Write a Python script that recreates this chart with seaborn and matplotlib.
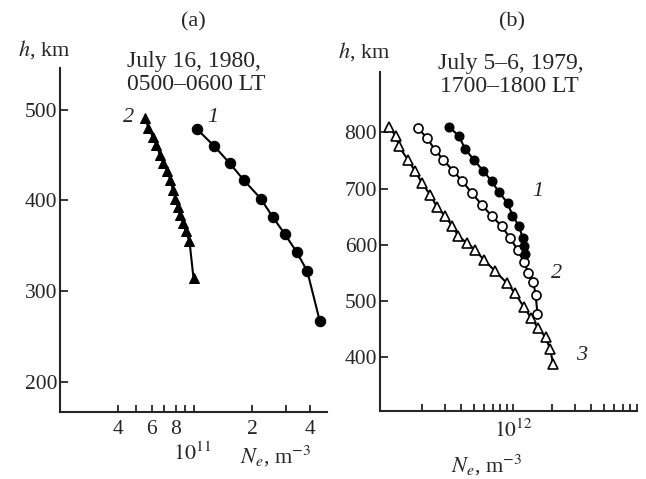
import matplotlib
matplotlib.use("Agg")
import matplotlib.pyplot as plt
import seaborn as sns
from matplotlib.ticker import NullLocator

sns.set_style("ticks")
plt.rcParams["font.family"] = ["Liberation Serif", "DejaVu Serif"]
plt.rcParams["mathtext.fontset"] = "stix"

# panel (a): July 16, 1980, 0500-0600 LT
a1_ne = [1.03e11, 1.27e11, 1.53e11, 1.82e11, 2.22e11, 2.56e11, 2.96e11, 3.42e11, 3.88e11, 4.51e11]
a1_h = [479, 460, 441, 422, 402, 382, 363, 343, 322, 267]
a2_ne = [5.55e10, 5.78e10, 6.09e10, 6.34e10, 6.65e10, 6.92e10, 7.26e10, 7.50e10,
         7.74e10, 7.96e10, 8.22e10, 8.45e10, 8.73e10, 9.05e10, 9.45e10, 9.92e10]
a2_h = [491, 480, 470, 461, 450, 441, 432, 423, 412, 402, 393, 384, 375, 366, 355, 314]

# panel (b): July 5-6, 1979, 1700-1800 LT
b1_ne = [3.24e11, 3.86e11, 4.30e11, 5.07e11, 5.94e11, 6.89e11, 7.85e11, 9.15e11,
         9.93e11, 1.12e12, 1.19e12, 1.22e12, 1.24e12]
b1_h = [810, 793, 770, 750, 731, 713, 693, 674, 652, 633, 612, 597, 584]
b2_ne = [1.86e11, 2.18e11, 2.52e11, 2.92e11, 3.49e11, 4.10e11, 4.84e11, 5.78e11, 6.89e11,
         8.22e11, 9.53e11, 1.09e12, 1.22e12, 1.32e12, 1.44e12, 1.50e12, 1.55e12]
b2_h = [808, 790, 769, 751, 731, 713, 692, 671, 651, 633, 612, 591, 569, 550, 533, 511, 476]
b3_ne = [1.12e11, 1.26e11, 1.33e11, 1.56e11, 1.77e11, 2.00e11, 2.31e11, 2.60e11, 3.01e11,
         3.43e11, 3.82e11, 4.43e11, 5.13e11, 6.00e11, 7.31e11, 8.99e11, 1.04e12, 1.21e12,
         1.38e12, 1.57e12, 1.79e12, 1.94e12, 2.05e12]
b3_h = [810, 793, 775, 751, 731, 710, 689, 668, 651, 633, 615, 603, 591, 573, 553, 532,
        514, 490, 470, 452, 435, 414, 387]

a_xticks = [4e10, 5e10, 6e10, 7e10, 8e10, 9e10, 1e11, 2e11, 3e11, 4e11]
a_xlabels = ["4", "", "6", "", "8", "", "", "2", "", "4"]
b_xticks = [2e11, 3e11, 4e11, 5e11, 6e11, 7e11, 8e11, 9e11, 1e12,
            2e12, 3e12, 4e12, 5e12, 6e12, 7e12, 8e12, 9e12]
b_xlabels = ["" if t != 1e12 else r"$10^{12}$" for t in b_xticks]

W, H = 646, 479
fig = plt.figure(figsize=(W / 100, H / 100), dpi=100)
ax_a = fig.add_axes([60 / W, 1 - 411.7 / H, 266.7 / W, (411.7 - 68) / H])
ax_b = fig.add_axes([380 / W, 1 - 411 / H, 256.7 / W, (411 - 71.7) / H])

line_kw = dict(color="black", lw=1.5, sort=False, estimator=None, markeredgecolor="black")

sns.lineplot(x=a1_ne, y=a1_h, ax=ax_a, marker="o", markersize=7.5, markerfacecolor="black", **line_kw)
sns.lineplot(x=a2_ne, y=a2_h, ax=ax_a, marker="^", markersize=7, markerfacecolor="black", **line_kw)

sns.lineplot(x=b3_ne, y=b3_h, ax=ax_b, marker="^", markersize=7, markerfacecolor="white",
             markeredgewidth=1.2, **line_kw)
sns.lineplot(x=b2_ne, y=b2_h, ax=ax_b, marker="o", markersize=6.5, markerfacecolor="white",
             markeredgewidth=1.2, **line_kw)
sns.lineplot(x=b1_ne, y=b1_h, ax=ax_b, marker="o", markersize=6.5, markerfacecolor="black", **line_kw)

for ax in (ax_a, ax_b):
    ax.set_xscale("log")
    sns.despine(ax=ax)
    for s in ("left", "bottom"):
        ax.spines[s].set_linewidth(1.5)
    ax.xaxis.set_minor_locator(NullLocator())
    ax.tick_params(axis="x", direction="in", length=5, width=1.3, labelsize=15.5, pad=6)
    ax.tick_params(axis="y", direction="in", length=6, width=1.3, labelsize=15.5, pad=2)
    ax.set_xlabel("")
    ax.set_ylabel("")

ax_a.set_xlim(2.0e10, 4.9e11)
ax_a.set_ylim(167, 546)
ax_a.set_xticks(a_xticks, labels=a_xlabels)
ax_a.xaxis.set_minor_locator(NullLocator())
ax_a.set_yticks([200, 300, 400, 500])

ax_b.set_xlim(9.5e10, 9.0e12)
ax_b.set_ylim(304, 908)
ax_b.set_xticks(b_xticks, labels=b_xlabels)
ax_b.xaxis.set_minor_locator(NullLocator())
ax_b.set_yticks([400, 500, 600, 700, 800])

def ftext(x, y, s, size=16, **kw):
    fig.text(x / W, 1 - y / H, s, fontsize=size, ha="center", va="center", **kw)

ftext(193, 22, "(a)")
ftext(512, 22, "(b)")
ftext(44, 50, r"$h$, km")
ftext(364, 52, r"$h$, km")
ftext(194, 61, "July 16, 1980,", size=17)
ftext(196, 85, "0500–0600 LT", size=17)
ftext(511, 63, "July 5–6, 1979,", size=17)
ftext(509, 87, "1700–1800 LT", size=17)
ftext(192, 454, r"$10^{11}$")
ftext(276, 456, r"$N_e$, m$^{-3}$")
ftext(487, 465, r"$N_e$, m$^{-3}$")

# curve numbers
ftext(129, 118, "2", style="italic")
ftext(213, 118, "1", style="italic")
ftext(538, 192, "1", style="italic")
ftext(557, 274, "2", style="italic")
ftext(582, 355, "3", style="italic")

fig.savefig("out.png", dpi=100)
